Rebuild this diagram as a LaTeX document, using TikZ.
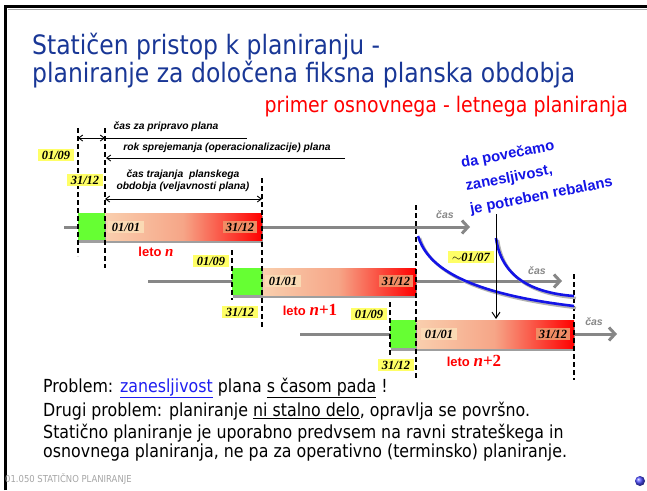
\documentclass[tikz,border=0pt]{standalone}
\usepackage{fontspec}
\setmainfont[FakeStretch=0.88]{DejaVu Sans}
\newfontfamily\arialf{Liberation Sans}
\newfontfamily\timesf{Liberation Serif}
\usetikzlibrary{arrows.meta,shadings}
\definecolor{titleblue}{RGB}{25,55,150}
\definecolor{subred}{RGB}{255,0,0}
\definecolor{labyellow}{RGB}{255,255,102}
\definecolor{barpeach}{RGB}{249,207,174}
\definecolor{barmid}{RGB}{246,165,135}
\definecolor{barred}{RGB}{255,0,0}
\definecolor{boxA}{RGB}{250,218,180}
\definecolor{boxB}{RGB}{240,140,100}
\definecolor{bargreen}{RGB}{102,255,51}
\definecolor{linegray}{RGB}{135,135,135}
\definecolor{curveblue}{RGB}{20,20,230}
\definecolor{linkblue}{RGB}{30,30,240}
\definecolor{footgray}{RGB}{165,165,165}
\newcommand\gradbar[4]{% x1, x2, ytop, ybottom
  \fill[linegray!80] ({#1+1},{#3+3}) rectangle ({#2+1},{#4+3});
  \shade[left color=barpeach, right color=barmid] (#1,#3) rectangle ({(#1+#2)/2},#4);
  \shade[left color=barmid, right color=barred] ({(#1+#2)/2-0.3},#3) rectangle (#2,#4);}
\begin{document}
\begin{tikzpicture}[x=1pt,y=-1pt,
  yel/.style={fill=labyellow, font=\timesf\bfseries\itshape\fontsize{12.5}{13}\selectfont, inner xsep=4pt, inner ysep=2pt},
  boxa/.style={fill=boxA, font=\timesf\bfseries\itshape\fontsize{12.5}{13}\selectfont, inner xsep=4pt, inner ysep=2pt},
  boxb/.style={fill=boxB, font=\timesf\bfseries\itshape\fontsize{12.5}{13}\selectfont, inner xsep=3pt, inner ysep=2pt},
  annot/.style={font=\arialf\bfseries\itshape\fontsize{10.3}{11.5}\selectfont, align=center, inner sep=0pt},
  casl/.style={text=linegray, font=\arialf\bfseries\itshape\fontsize{10.5}{12}\selectfont, inner sep=0pt},
  leto/.style={text=subred, font=\arialf\bfseries\fontsize{13}{15}\selectfont, inner sep=0pt},
  dline/.style={draw=black, line width=1.6pt, dash pattern=on 5pt off 3pt},
  tarrow/.style={draw=linegray, line width=3pt, -{Straight Barb[length=6pt,width=13pt]}},
  anarrow/.style={draw=black, line width=0.9pt},
  body/.style={font=\fontsize{18}{19}\selectfont, align=left, inner sep=0pt, anchor=west},
  curve/.style={draw=curveblue, line width=2.6pt},
  cshadow/.style={draw=black!30, line width=2.6pt},
  rebtext/.style={rotate=11, anchor=base west, text=curveblue, font=\arialf\bfseries\fontsize{14.8}{18}\selectfont, inner sep=0pt}
]
\useasboundingbox (0,0) rectangle (647,490);
% frame
\draw[black!35, line width=1pt] (8,9) -- (647,9);
\draw[line width=3pt] (5,490) -- (5,6.5) -- (647,6.5);
% titles
\node[anchor=west, text=titleblue, font=\fontsize{26.7}{30}\selectfont, inner sep=0pt] (t1) at (32,47) {Statičen pristop k planiranju -};
\node[anchor=west, text=titleblue, font=\fontsize{26.7}{30}\selectfont, inner sep=0pt] (t2) at (32,75) {planiranje za določena fiksna planska obdobja};
\node[anchor=east, text=subred, font=\fontsize{21.5}{24}\selectfont, inner sep=0pt] (t3) at (628,107) {primer osnovnega - letnega planiranja};

% timelines
\draw[tarrow] (64,227) coordinate (l1s) -- (470,227) coordinate (l1e);
\draw[tarrow] (148,281) coordinate (l2s) -- (562,281) coordinate (l2e);
\draw[tarrow] (300,334) coordinate (l3s) -- (617,334) coordinate (l3e);
\node[casl] (c1) at (445,215) {čas};
\node[casl] (c2) at (537,271) {čas};
\node[casl] (c3) at (594,322) {čas};

% bars
\gradbar{105}{262}{213}{240}
\fill[linegray!80] (79,216) rectangle (106,243);
\fill[bargreen] (78,213) rectangle (105,240);
\gradbar{262}{416}{268}{295}
\fill[linegray!80] (233,271) rectangle (263,298);
\fill[bargreen] (232,268) rectangle (262,295);
\gradbar{416}{574}{320}{348}
\fill[linegray!80] (391,323) rectangle (417,351);
\fill[bargreen] (390,320) rectangle (416,348);

% dashed lines
\draw[dline] (78,128) coordinate (d1t) -- (78,256) coordinate (d1b);
\draw[dline] (105,128) coordinate (d2t) -- (105,268) coordinate (d2b);
\draw[dline] (262,178) coordinate (d3t) -- (262,328) coordinate (d3b);
\draw[dline] (416,205) coordinate (d4t) -- (416,378) coordinate (d4b);
\draw[dline] (232,250) coordinate (d5t) -- (232,300) coordinate (d5b);
\draw[dline] (390,302) coordinate (d6t) -- (390,356) coordinate (d6b);
\draw[dline] (574,274) coordinate (d7t) -- (574,380) coordinate (d7b);

% labels in bars
\node[boxa] (a1) at (126,227) {01/01};
\node[boxb] (b1) at (240,227) {31/12};
\node[boxa] (a2) at (283,281) {01/01};
\node[boxb] (b2) at (396,281) {31/12};
\node[boxa] (a3) at (439,334) {01/01};
\node[boxb] (b3) at (553,334) {31/12};
% yellow labels
\node[yel] (y1) at (56,155) {01/09};
\node[yel] (y2) at (85,180) {31/12};
\node[yel] (y3) at (211,261) {01/09};
\node[yel] (y4) at (240,312) {31/12};
\node[yel] (y5) at (369,314) {01/09};
\node[yel] (y6) at (396,365) {31/12};
\node[yel] (y7) at (471,257) {$\sim$01/07};
% leto labels
\node[leto] (n1) at (156,252) {leto {\timesf\bfseries\itshape\fontsize{15}{15}\selectfont n}};
\node[leto] (n2) at (310,310) {leto {\timesf\fontsize{17}{17}\selectfont\textbf{\textit{n}}\textbf{+}1}};
\node[leto] (n3) at (474,361) {leto {\timesf\fontsize{17}{17}\selectfont\textbf{\textit{n}}\textbf{+}2}};

% annotations
\node[annot] (an1) at (166,127) {čas za pripravo plana};
\coordinate (p1a) at (78,138);
\coordinate (p1b) at (105,138);
\coordinate (p1c) at (247,138);
\draw[anarrow, {Straight Barb[length=4pt,width=6pt]}-{Straight Barb[length=4pt,width=6pt]}] (p1a) -- (p1b);
\draw[anarrow] (p1b) -- (p1c);
\node[annot] (an2) at (227,148) {rok sprejemanja (operacionalizacije) plana};
\coordinate (p2a) at (345,158);
\coordinate (p2b) at (106,158);
\draw[anarrow, -{Straight Barb[length=4pt,width=6pt]}] (p2a) -- (p2b);
\node[annot] (an3) at (183,180.5) {čas trajanja\ \ planskega\\obdobja (veljavnosti plana)};
\coordinate (p3a) at (105,199);
\coordinate (p3b) at (262,199);
\draw[anarrow, {Straight Barb[length=4pt,width=6pt]}-{Straight Barb[length=4pt,width=6pt]}] (p3a) -- (p3b);

% reliability curves
\draw[cshadow] (420,238) .. controls (428,264) and (457,294) .. (576,308);
\draw[curve] (418,236) coordinate (k1s) .. controls (426,262) and (455,292) .. (574,306) coordinate (k1e);
\draw[cshadow] (498,240) .. controls (502,270) and (522,294) .. (576,298);
\draw[curve] (496,238) coordinate (k2s) .. controls (500,268) and (520,292) .. (574,296) coordinate (k2e);

% rebalance note and arrow
\node[rebtext] (reb1) at (462,168) {da povečamo};
\node[rebtext] (reb2) at (466.5,191) {zanesljivost,};
\node[rebtext] (reb3) at (471,214) {je potreben rebalans};
\coordinate (ra) at (496,214);
\coordinate (rb) at (496,319);
\draw[black, line width=1pt, -{Straight Barb[length=6pt,width=8pt]}] (ra) -- (rb);

% body text
\node[body] (bt1) at (43,388) {Problem: \textcolor{linkblue}{\underline{zanesljivost}} plana \underline{s časom pada} !};
\node[body] (bt2) at (43,411) {Drugi problem: planiranje \underline{ni stalno delo}, opravlja se površno.};
\node[body, anchor=north west] (bt3) at (43,424) {Statično planiranje je uporabno predvsem na ravni strateškega in\\osnovnega planiranja, ne pa za operativno (terminsko) planiranje.};

% footer
\node[anchor=west, text=footgray, font=\fontsize{9.6}{10}\selectfont, inner sep=0pt] (ft) at (5,479) {01.050 STATIČNO PLANIRANJE};
\shade[ball color=blue!70] (640,481) circle (5) node (dot) {};
\end{tikzpicture}
\end{document}
